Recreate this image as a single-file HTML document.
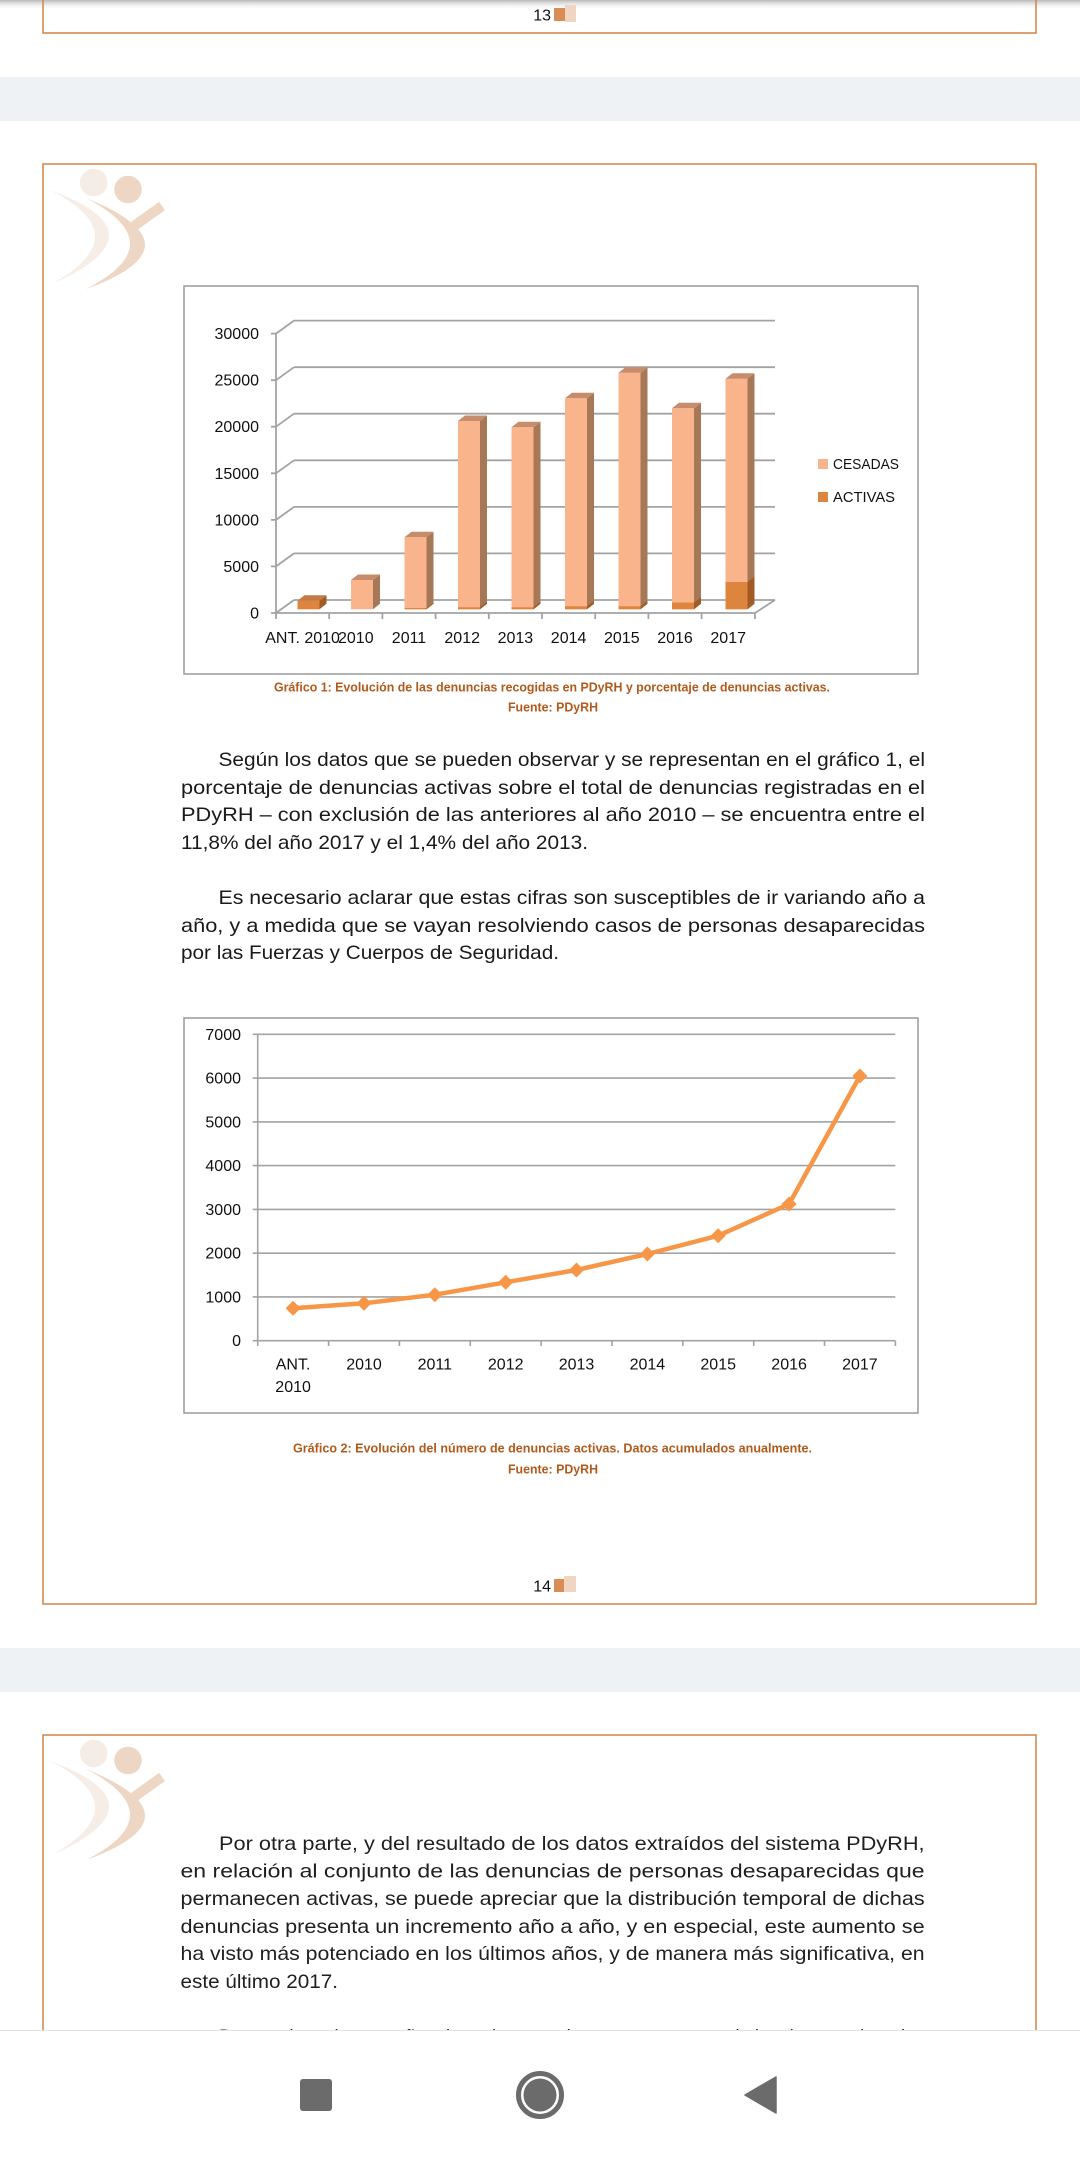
<!DOCTYPE html>
<html>
<head>
<meta charset="utf-8">
<style>
html,body{margin:0;padding:0;background:#fff;}
svg{display:block;}
text{font-family:"Liberation Sans",Arial,sans-serif;}
</style>
</head>
<body>
<svg width="1080" height="2160" viewBox="0 0 1080 2160" xmlns="http://www.w3.org/2000/svg">
<defs>
<linearGradient id="topsh" x1="0" y1="0" x2="0" y2="1">
<stop offset="0" stop-color="#b8b8b8"/>
<stop offset="1" stop-color="#ffffff" stop-opacity="0"/>
</linearGradient>
<clipPath id="navclip"><rect x="0" y="0" width="1080" height="2030"/></clipPath>
<g id="logo">
<path d="M50,26 Q167,69 52,120 Q139,71 50,26 Z" fill="#f6ede6"/>
<circle cx="93.7" cy="18.5" r="13.8" fill="#f5ece5"/>
<path d="M86,34 Q204,82 86,125 Q174,80 86,34 Z" fill="#eed6c4"/>
<path d="M134,62 L162,42" stroke="#eed6c4" stroke-width="10" fill="none"/>
<circle cx="128" cy="25.5" r="13.8" fill="#eed6c4"/>
</g>
</defs>

<!-- top page fragment -->
<rect x="0" y="0" width="1080" height="10" fill="url(#topsh)"/>
<path d="M43,0 V33 H1036 V0" fill="none" stroke="#d18446" stroke-width="1.5"/>
<text x="551" y="20.5" font-size="16" text-anchor="end" fill="#111">13</text>
<rect x="554" y="8" width="11" height="13" fill="#d98c53"/>
<rect x="565" y="5" width="11" height="17" fill="#f0d5c3"/>

<!-- band 1 -->
<rect x="0" y="77" width="1080" height="44" fill="#eef2f5"/>

<!-- page 14 box -->
<rect x="43" y="164" width="993" height="1440" fill="#fff" stroke="#d18446" stroke-width="1.5"/>
<use href="#logo" x="0" y="164"/>

<!-- Chart 1 -->
<rect x="184" y="286" width="734" height="388" fill="#fff" stroke="#9a9a9a" stroke-width="1.5"/>
<g stroke="#a3a3a3" stroke-width="1.8" fill="none">
<path d="M294,600 H775 M294,553.4 H775 M294,506.9 H775 M294,460.3 H775 M294,413.7 H775 M294,367.2 H775 M294,320.6 H775"/>
<path d="M276,613 L294,600 M276,566.4 L294,553.4 M276,519.9 L294,506.9 M276,473.3 L294,460.3 M276,426.7 L294,413.7 M276,380.2 L294,367.2 M276,333.6 L294,320.6"/>
<path d="M276,333.6 V613 H755 L775,600"/>
<path d="M271,613 H276 M271,566.4 H276 M271,519.9 H276 M271,473.3 H276 M271,426.7 H276 M271,380.2 H276 M271,333.6 H276"/>
<path d="M276,613 V619 M329.2,613 V619 M382.4,613 V619 M435.6,613 V619 M488.8,613 V619 M542,613 V619 M595.2,613 V619 M648.4,613 V619 M701.6,613 V619 M755,613 V619"/>
</g>
<g font-size="16" fill="#111" text-anchor="end">
<text x="259" y="618.5">0</text>
<text x="259" y="571.9">5000</text>
<text x="259" y="525.4">10000</text>
<text x="259" y="478.8">15000</text>
<text x="259" y="432.2">20000</text>
<text x="259" y="385.7">25000</text>
<text x="259" y="339.1">30000</text>
</g>
<g font-size="16" fill="#111" text-anchor="middle">
<text x="302.6" y="643">ANT. 2010</text>
<text x="355.8" y="643">2010</text>
<text x="409" y="643">2011</text>
<text x="462.2" y="643">2012</text>
<text x="515.4" y="643">2013</text>
<text x="568.6" y="643">2014</text>
<text x="621.8" y="643">2015</text>
<text x="675" y="643">2016</text>
<text x="728.2" y="643">2017</text>
</g>
<!-- bars -->
<g>
<rect x="297.5" y="600.7" width="22" height="8.6" fill="#dd843f"/>
<polygon points="319.5,600.7 326.5,595.2 326.5,603.8 319.5,609.3" fill="#a15b25"/>
<polygon points="297.5,600.7 304.5,595.2 326.5,595.2 319.5,600.7" fill="#c47a45"/>

<rect x="351" y="580" width="22" height="29.3" fill="#fab48c"/>
<polygon points="373,580 380,574.5 380,603.8 373,609.3" fill="#a67858"/>
<polygon points="351,580 358,574.5 380,574.5 373,580" fill="#c68c6c"/>

<rect x="404.5" y="537.3" width="22" height="72" fill="#fab48c"/>
<rect x="404.5" y="608" width="22" height="1.3" fill="#dd843f"/>
<polygon points="426.5,537.3 433.5,531.8 433.5,603.8 426.5,609.3" fill="#a67858"/>
<polygon points="426.5,608 433.5,602.5 433.5,603.8 426.5,609.3" fill="#a15b25"/>
<polygon points="404.5,537.3 411.5,531.8 433.5,531.8 426.5,537.3" fill="#c68c6c"/>

<rect x="458" y="421" width="22" height="188.3" fill="#fab48c"/>
<rect x="458" y="607.3" width="22" height="2" fill="#dd843f"/>
<polygon points="480,421 487,415.5 487,603.8 480,609.3" fill="#a67858"/>
<polygon points="480,607.3 487,601.8 487,603.8 480,609.3" fill="#a15b25"/>
<polygon points="458,421 465,415.5 487,415.5 480,421" fill="#c68c6c"/>

<rect x="511.5" y="427.3" width="22" height="182" fill="#fab48c"/>
<rect x="511.5" y="607.3" width="22" height="2" fill="#dd843f"/>
<polygon points="533.5,427.3 540.5,421.8 540.5,603.8 533.5,609.3" fill="#a67858"/>
<polygon points="533.5,607.3 540.5,601.8 540.5,603.8 533.5,609.3" fill="#a15b25"/>
<polygon points="511.5,427.3 518.5,421.8 540.5,421.8 533.5,427.3" fill="#c68c6c"/>

<rect x="565" y="398.3" width="22" height="211" fill="#fab48c"/>
<rect x="565" y="606.3" width="22" height="3" fill="#dd843f"/>
<polygon points="587,398.3 594,392.8 594,603.8 587,609.3" fill="#a67858"/>
<polygon points="587,606.3 594,600.8 594,603.8 587,609.3" fill="#a15b25"/>
<polygon points="565,398.3 572,392.8 594,392.8 587,398.3" fill="#c68c6c"/>

<rect x="618.5" y="372.7" width="22" height="236.6" fill="#fab48c"/>
<rect x="618.5" y="606.3" width="22" height="3" fill="#dd843f"/>
<polygon points="640.5,372.7 647.5,367.2 647.5,603.8 640.5,609.3" fill="#a67858"/>
<polygon points="640.5,606.3 647.5,600.8 647.5,603.8 640.5,609.3" fill="#a15b25"/>
<polygon points="618.5,372.7 625.5,367.2 647.5,367.2 640.5,372.7" fill="#c68c6c"/>

<rect x="672" y="408.3" width="22" height="201" fill="#fab48c"/>
<rect x="672" y="602.6" width="22" height="6.7" fill="#dd843f"/>
<polygon points="694,408.3 701,402.8 701,603.8 694,609.3" fill="#a67858"/>
<polygon points="694,602.6 701,597.1 701,603.8 694,609.3" fill="#a15b25"/>
<polygon points="672,408.3 679,402.8 701,402.8 694,408.3" fill="#c68c6c"/>

<rect x="725.5" y="378.7" width="22" height="230.6" fill="#fab48c"/>
<rect x="725.5" y="582" width="22" height="27.3" fill="#dd843f"/>
<polygon points="747.5,378.7 754.5,373.2 754.5,603.8 747.5,609.3" fill="#a67858"/>
<polygon points="747.5,582 754.5,576.5 754.5,603.8 747.5,609.3" fill="#a15b25"/>
<polygon points="725.5,378.7 732.5,373.2 754.5,373.2 747.5,378.7" fill="#c68c6c"/>
</g>
<!-- legend -->
<rect x="818" y="459" width="10" height="10" fill="#fab48c"/>
<rect x="818" y="492" width="10" height="10" fill="#dd843f"/>
<text x="833" y="469" font-size="14.5" fill="#111" textLength="66" lengthAdjust="spacingAndGlyphs">CESADAS</text>
<text x="833" y="502" font-size="14.5" fill="#111" textLength="62" lengthAdjust="spacingAndGlyphs">ACTIVAS</text>

<!-- caption 1 -->
<text x="274" y="691.5" font-size="13" font-weight="bold" fill="#b25a1c" textLength="556" lengthAdjust="spacingAndGlyphs">Gráfico 1: Evolución de las denuncias recogidas en PDyRH y porcentaje de denuncias activas.</text>
<text x="508" y="711.5" font-size="13" font-weight="bold" fill="#b25a1c" textLength="90" lengthAdjust="spacingAndGlyphs">Fuente: PDyRH</text>

<!-- paragraphs -->
<g font-size="19.5" fill="#1a1a1a">
<text x="218.5" y="766" textLength="706.5" lengthAdjust="spacingAndGlyphs">Según los datos que se pueden observar y se representan en el gráfico 1, el</text>
<text x="181" y="794" textLength="744" lengthAdjust="spacingAndGlyphs">porcentaje de denuncias activas sobre el total de denuncias registradas en el</text>
<text x="181" y="821" textLength="744" lengthAdjust="spacingAndGlyphs">PDyRH – con exclusión de las anteriores al año 2010 – se encuentra entre el</text>
<text x="181" y="849" textLength="407" lengthAdjust="spacingAndGlyphs">11,8% del año 2017 y el 1,4% del año 2013.</text>
<text x="218.5" y="904" textLength="706.5" lengthAdjust="spacingAndGlyphs">Es necesario aclarar que estas cifras son susceptibles de ir variando año a</text>
<text x="181" y="932" textLength="744" lengthAdjust="spacingAndGlyphs">año, y a medida que se vayan resolviendo casos de personas desaparecidas</text>
<text x="181" y="959" textLength="378" lengthAdjust="spacingAndGlyphs">por las Fuerzas y Cuerpos de Seguridad.</text>
</g>

<!-- Chart 2 -->
<rect x="184" y="1018" width="734" height="395" fill="#fff" stroke="#9a9a9a" stroke-width="1.5"/>
<g stroke="#a3a3a3" stroke-width="1.6" fill="none">
<path d="M257.7,1296.9 H895.3 M257.7,1253.2 H895.3 M257.7,1209.4 H895.3 M257.7,1165.6 H895.3 M257.7,1121.9 H895.3 M257.7,1078.1 H895.3 M257.7,1034.3 H895.3"/>
<path d="M257.7,1034.3 V1340.7 H895.3"/>
<path d="M252.7,1340.7 H257.7 M252.7,1296.9 H257.7 M252.7,1253.2 H257.7 M252.7,1209.4 H257.7 M252.7,1165.6 H257.7 M252.7,1121.9 H257.7 M252.7,1078.1 H257.7 M252.7,1034.3 H257.7"/>
<path d="M257.7,1340.7 V1346 M328.6,1340.7 V1346 M399.4,1340.7 V1346 M470.3,1340.7 V1346 M541.1,1340.7 V1346 M612,1340.7 V1346 M682.8,1340.7 V1346 M753.7,1340.7 V1346 M824.5,1340.7 V1346 M895.4,1340.7 V1346"/>
</g>
<g font-size="16" fill="#111" text-anchor="end">
<text x="241" y="1346.2">0</text>
<text x="241" y="1302.4">1000</text>
<text x="241" y="1258.7">2000</text>
<text x="241" y="1214.9">3000</text>
<text x="241" y="1171.1">4000</text>
<text x="241" y="1127.4">5000</text>
<text x="241" y="1083.6">6000</text>
<text x="241" y="1039.8">7000</text>
</g>
<g font-size="16" fill="#111" text-anchor="middle">
<text x="293.1" y="1369.5">ANT.</text>
<text x="293.1" y="1392">2010</text>
<text x="364" y="1369.5">2010</text>
<text x="434.8" y="1369.5">2011</text>
<text x="505.7" y="1369.5">2012</text>
<text x="576.5" y="1369.5">2013</text>
<text x="647.4" y="1369.5">2014</text>
<text x="718.2" y="1369.5">2015</text>
<text x="789.1" y="1369.5">2016</text>
<text x="859.9" y="1369.5">2017</text>
</g>
<polyline points="293.1,1308.3 364,1303.3 434.8,1294.7 505.7,1282.3 576.5,1270 647.4,1254 718.2,1235.7 789.1,1204 859.9,1076" fill="none" stroke="#f79646" stroke-width="4.5" stroke-linejoin="round"/>
<g fill="#f79646">
<polygon points="293.1,1300.8 300.6,1308.3 293.1,1315.8 285.6,1308.3"/>
<polygon points="364,1295.8 371.5,1303.3 364,1310.8 356.5,1303.3"/>
<polygon points="434.8,1287.2 442.3,1294.7 434.8,1302.2 427.3,1294.7"/>
<polygon points="505.7,1274.8 513.2,1282.3 505.7,1289.8 498.2,1282.3"/>
<polygon points="576.5,1262.5 584,1270 576.5,1277.5 569,1270"/>
<polygon points="647.4,1246.5 654.9,1254 647.4,1261.5 639.9,1254"/>
<polygon points="718.2,1228.2 725.7,1235.7 718.2,1243.2 710.7,1235.7"/>
<polygon points="789.1,1196.5 796.6,1204 789.1,1211.5 781.6,1204"/>
<polygon points="859.9,1068.5 867.4,1076 859.9,1083.5 852.4,1076"/>
</g>

<!-- caption 2 -->
<text x="293" y="1452.5" font-size="13" font-weight="bold" fill="#b25a1c" textLength="519" lengthAdjust="spacingAndGlyphs">Gráfico 2: Evolución del número de denuncias activas. Datos acumulados anualmente.</text>
<text x="508" y="1473.5" font-size="13" font-weight="bold" fill="#b25a1c" textLength="90" lengthAdjust="spacingAndGlyphs">Fuente: PDyRH</text>

<!-- page number 14 -->
<text x="551" y="1591.5" font-size="16" text-anchor="end" fill="#111">14</text>
<rect x="554" y="1579" width="10" height="13" fill="#d98c53"/>
<rect x="564" y="1576" width="12" height="16" fill="#f0d5c3"/>

<!-- band 2 -->
<rect x="0" y="1648" width="1080" height="44" fill="#eef2f5"/>

<!-- page 15 box -->
<g clip-path="url(#navclip)">
<rect x="43" y="1735" width="993" height="400" fill="#fff" stroke="#d18446" stroke-width="1.5"/>
<use href="#logo" x="0" y="1735"/>
<g font-size="19.5" fill="#1f1f1f">
<text x="219" y="1850" textLength="705.6" lengthAdjust="spacingAndGlyphs">Por otra parte, y del resultado de los datos extraídos del sistema  PDyRH,</text>
<text x="180.5" y="1877.7" textLength="744.1" lengthAdjust="spacingAndGlyphs">en relación al conjunto de las denuncias de personas desaparecidas que</text>
<text x="180.5" y="1905" textLength="744.1" lengthAdjust="spacingAndGlyphs">permanecen activas, se puede apreciar que la distribución temporal de dichas</text>
<text x="180.5" y="1933" textLength="744.1" lengthAdjust="spacingAndGlyphs">denuncias presenta un incremento año a año, y en especial, este aumento se</text>
<text x="180.5" y="1960" textLength="744.1" lengthAdjust="spacingAndGlyphs">ha visto más potenciado en los últimos años, y de manera más significativa, en</text>
<text x="180.5" y="1988" textLength="157.5" lengthAdjust="spacingAndGlyphs">este último 2017.</text>
<text x="219" y="2043" textLength="705.6" lengthAdjust="spacingAndGlyphs">Durante los primeros años de registro se observa un aumento de los datos registrados</text>
</g>
</g>

<!-- nav bar -->
<rect x="0" y="2030" width="1080" height="130" fill="#fff"/>
<line x1="0" y1="2030.5" x2="1080" y2="2030.5" stroke="#e3e3e3" stroke-width="1"/>
<rect x="300" y="2079" width="32" height="32" rx="3" fill="#6b6b6b"/>
<circle cx="540" cy="2095" r="21.5" fill="none" stroke="#6b6b6b" stroke-width="5"/>
<circle cx="540" cy="2095" r="16.5" fill="#6b6b6b"/>
<polygon points="745,2095 776,2077 776,2113" fill="#6b6b6b" stroke="#6b6b6b" stroke-width="1.5" stroke-linejoin="round"/>
</svg>
</body>
</html>
